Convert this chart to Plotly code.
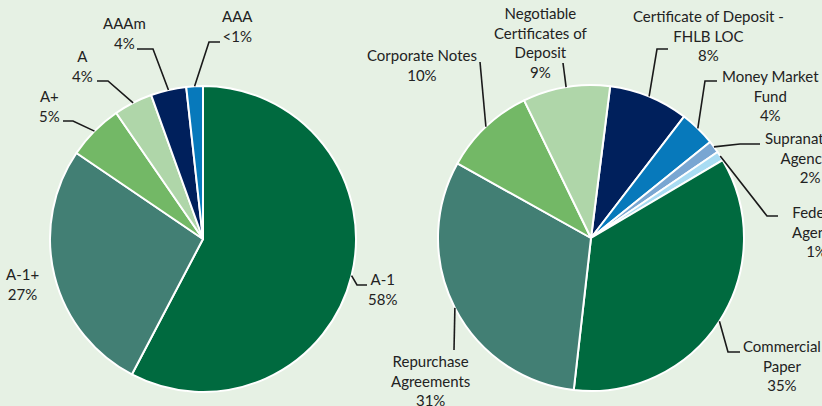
import math
import plotly.graph_objects as go

W, H = 822, 406

# ---- data ----
rating_labels = ["A-1", "A-1+", "A+", "A", "AAAm", "AAA"]
rating_values = [57.7, 26.8, 5.9, 4.1, 3.75, 1.75]
rating_text = ["58%", "27%", "5%", "4%", "4%", "<1%"]

sector_labels = ["Certificate of Deposit -<br>FHLB LOC", "Money Market<br>Fund",
                 "Supranational<br>Agencies", "Federal<br>Agency", "Commercial<br>Paper",
                 "Repurchase<br>Agreements", "Corporate Notes",
                 "Negotiable<br>Certificates of<br>Deposit"]
sector_values = [8.4, 3.8, 1.3, 1.0, 35.3, 31.3, 9.7, 9.2]
sector_text = ["8%", "4%", "2%", "1%", "35%", "31%", "10%", "9%"]

rating_colors = ["#006a3f", "#427f74", "#73b866", "#afd6a9", "#00205c", "#0779bb"]
sector_colors = ["#00205c", "#0779bb", "#79a6d2", "#a9dcf3", "#006a3f", "#427f74",
                 "#73b866", "#afd6a9"]

BG = "#e6f1e4"
FONT = "Lato"
FS = 15

# pie geometry (pixels)
pies = [
    dict(cx=203, cy=239, r=153, rot=0.0),
    dict(cx=591, cy=238, r=153, rot=7.2),
]

# label layout: (label center x, y, leader points after edge point)
rating_lbl = [
    (382, 289, [(357, 285), (367, 285)]),
    (22, 284, None),
    (49, 106, [(73, 121), (63, 121)]),
    (82, 66, [(108, 81), (97, 81)]),
    (124, 33, [(153, 49), (137, 49)]),
    (237, 26, [(209, 42), (220, 42)]),
]
sector_lbl = [
    (708, 35, [(657, 49), (668, 49)]),
    (770, 95, [(705, 81), (717, 81)]),
    (810, 157, [(740, 144), (760, 144)]),
    (816, 231, [(767, 216), (778, 216)]),
    (782, 365, [(728, 352), (740, 352)]),
    (430, 380, [(454, 350)]),
    (422, 65, [(480, 62)]),
    (541, 42, [(563, 63)]),
]

fig = go.Figure()

def domain(p):
    return dict(x=[(p["cx"] - p["r"]) / W, (p["cx"] + p["r"]) / W],
                y=[(H - p["cy"] - p["r"]) / H, (H - p["cy"] + p["r"]) / H])

for p, labels, values, colors in [(pies[0], rating_labels, rating_values, rating_colors),
                                  (pies[1], sector_labels, sector_values, sector_colors)]:
    fig.add_trace(go.Pie(
        labels=labels, values=values, sort=False, direction="clockwise",
        rotation=p["rot"], domain=domain(p), textinfo="none",
        marker=dict(colors=colors, line=dict(color="white", width=2)),
        showlegend=False, hoverinfo="label+percent",
    ))

shapes = []
annotations = []

def add_labels(p, labels, values, texts, lbl):
    total = sum(values)
    cum = 0.0
    for lab, v, t, (lx, ly, pts) in zip(labels, values, texts, lbl):
        mid = p["rot"] + (cum + v / 2) / total * 360.0
        cum += v
        a = math.radians(mid)
        ex = p["cx"] + p["r"] * math.sin(a)
        ey = p["cy"] - p["r"] * math.cos(a)
        if pts:
            path = "M %.2f %.2f" % (ex, ey) + "".join(" L %.2f %.2f" % q for q in pts)
            shapes.append(dict(type="path", xref="x", yref="y", path=path,
                               line=dict(color="#1a1a1a", width=1.6)))
        annotations.append(dict(x=lx, y=ly, xref="x", yref="y", text=lab + "<br>" + t,
                                showarrow=False, xanchor="center", yanchor="middle",
                                align="center",
                                font=dict(family=FONT, size=FS, color="#222222")))

add_labels(pies[0], rating_labels, rating_values, rating_text, rating_lbl)
add_labels(pies[1], sector_labels, sector_values, sector_text, sector_lbl)

fig.update_layout(
    width=W, height=H, margin=dict(l=0, r=0, t=0, b=0),
    paper_bgcolor=BG, plot_bgcolor="rgba(0,0,0,0)",
    xaxis=dict(range=[0, W], visible=False, fixedrange=True),
    yaxis=dict(range=[H, 0], visible=False, fixedrange=True),
    shapes=shapes, annotations=annotations,
    font=dict(family=FONT, size=FS),
)

fig.write_html("out.html", config={"displayModeBar": False},
               post_script="document.body.style.margin='0';document.body.style.overflow='hidden';")
